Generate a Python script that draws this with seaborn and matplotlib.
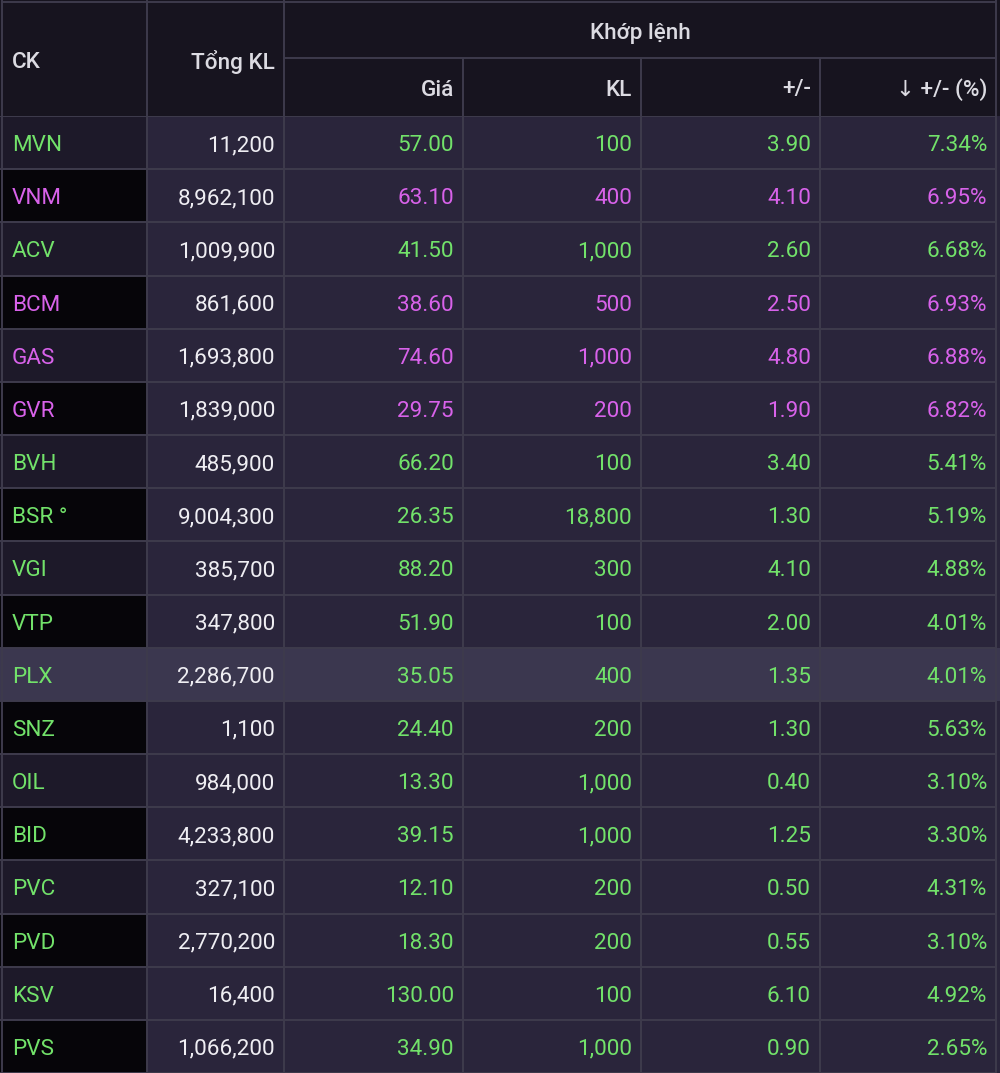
import numpy as np
import pandas as pd
import matplotlib
matplotlib.use("Agg")
import matplotlib.pyplot as plt
from matplotlib.colors import ListedColormap
import seaborn as sns

# ---------------- data ----------------
tickers = ["MVN", "VNM", "ACV", "BCM", "GAS", "GVR", "BVH", "BSR °", "VGI", "VTP",
           "PLX", "SNZ", "OIL", "BID", "PVC", "PVD", "KSV", "PVS"]
tong_kl = ["11,200", "8,962,100", "1,009,900", "861,600", "1,693,800", "1,839,000",
           "485,900", "9,004,300", "385,700", "347,800", "2,286,700", "1,100",
           "984,000", "4,233,800", "327,100", "2,770,200", "16,400", "1,066,200"]
gia = ["57.00", "63.10", "41.50", "38.60", "74.60", "29.75", "66.20", "26.35", "88.20",
       "51.90", "35.05", "24.40", "13.30", "39.15", "12.10", "18.30", "130.00", "34.90"]
kl = ["100", "400", "1,000", "500", "1,000", "200", "100", "18,800", "300", "100",
      "400", "200", "1,000", "1,000", "200", "200", "100", "1,000"]
change = ["3.90", "4.10", "2.60", "2.50", "4.80", "1.90", "3.40", "1.30", "4.10", "2.00",
          "1.35", "1.30", "0.40", "1.25", "0.50", "0.55", "6.10", "0.90"]
pct = ["7.34%", "6.95%", "6.68%", "6.93%", "6.88%", "6.82%", "5.41%", "5.19%", "4.88%",
       "4.01%", "4.01%", "5.63%", "3.10%", "3.30%", "4.31%", "3.10%", "4.92%", "2.65%"]
status = ["up", "ceil", "up", "ceil", "ceil", "ceil", "up", "up", "up", "up",
          "up", "up", "up", "up", "up", "up", "up", "up"]
highlight_row = "PLX"
headers = ["CK", "Tổng KL"]
group_header = "Khớp lệnh"
sub_headers = ["Giá", "KL", "+/-", "↓ +/- (%)"]

# ---------------- style ----------------
W, H = 1000, 1073
HEADER_H = 116
col_edges = [2, 147, 284, 463, 641, 820, 996]
bg_header = "#17141f"
bg_cell = "#2a253b"
bg_ck_even = "#1d1929"
bg_ck_odd = "#060509"
bg_hl = "#3b374f"
line_c = "#3e3b4c"
txt_white = "#efeef3"
txt_head = "#dcdbe2"
col_status = {"up": "#72e26a", "ceil": "#d862ea"}
FS = 16.2
DY = 3.0  # vertical text offset in px

sns.set_theme(style="white")
plt.rcParams["font.family"] = ["Roboto", "DejaVu Sans"]

fig = plt.figure(figsize=(W / 100, H / 100), dpi=100)
fig.patch.set_facecolor(bg_header)

# ---------------- body (heatmap of cell backgrounds) ----------------
nrows = len(tickers)
body_h = H - HEADER_H
row_px = body_h / nrows
ax = fig.add_axes([0, 0, 1, body_h / H])
codes = np.zeros((nrows, W), dtype=int)
for i, t in enumerate(tickers):
    codes[i, :col_edges[1]] = 1 if i % 2 == 0 else 2
    if t == highlight_row:
        codes[i, :] = 3
cmap = ListedColormap([bg_cell, bg_ck_even, bg_ck_odd, bg_hl])
sns.heatmap(pd.DataFrame(codes), ax=ax, cmap=cmap, vmin=-0.5, vmax=3.5,
            cbar=False, xticklabels=False, yticklabels=False)
ax.set_xlim(0, W)
ax.set_ylim(nrows, 0)
ax.hlines(np.arange(0, nrows + 1), 0, col_edges[-1], color=line_c, lw=1.4)
ax.vlines(col_edges, 0, nrows, color=line_c, lw=1.4)
for s in ax.spines.values():
    s.set_visible(False)

for i in range(nrows):
    y = i + 0.5 + DY / row_px
    c = col_status[status[i]]
    ax.text(col_edges[0] + 10, y, tickers[i], color=c, fontsize=FS,
            ha="left", va="center")
    ax.text(col_edges[2] - 9, y, tong_kl[i], color=txt_white, fontsize=FS,
            ha="right", va="center")
    for j, vals in enumerate([gia, kl, change, pct]):
        ax.text(col_edges[3 + j] - 9, y, vals[i], color=c, fontsize=FS,
                ha="right", va="center")

# ---------------- header ----------------
axh = fig.add_axes([0, body_h / H, 1, HEADER_H / H])
axh.set_facecolor(bg_header)
axh.set_xlim(0, W)
axh.set_ylim(HEADER_H, 0)
axh.set_xticks([])
axh.set_yticks([])
for s in axh.spines.values():
    s.set_visible(False)
axh.hlines([1.5], col_edges[0], col_edges[-1], color=line_c, lw=1.4)
axh.hlines([58], col_edges[2], col_edges[-1], color=line_c, lw=1.4)
axh.vlines([col_edges[0], col_edges[1], col_edges[2], col_edges[-1]], 0, HEADER_H,
           color=line_c, lw=1.4)
axh.vlines(col_edges[3:-1], 58, HEADER_H, color=line_c, lw=1.4)

axh.text(col_edges[0] + 10, 59 + DY, headers[0], color=txt_head, fontsize=FS,
         fontweight="medium", ha="left", va="center")
axh.text(col_edges[2] - 9, 59 + DY, headers[1], color=txt_head, fontsize=FS,
         fontweight="medium", ha="right", va="center")
axh.text((col_edges[2] + col_edges[-1]) / 2, 30 + DY, group_header, color=txt_head,
         fontsize=FS, fontweight="medium", ha="center", va="center")
for j, h in enumerate(sub_headers):
    axh.text(col_edges[3 + j] - 9, 87 + DY, h, color=txt_head, fontsize=FS,
             fontweight="medium", ha="right", va="center")

fig.savefig("out.png", dpi=100, facecolor=fig.get_facecolor())
